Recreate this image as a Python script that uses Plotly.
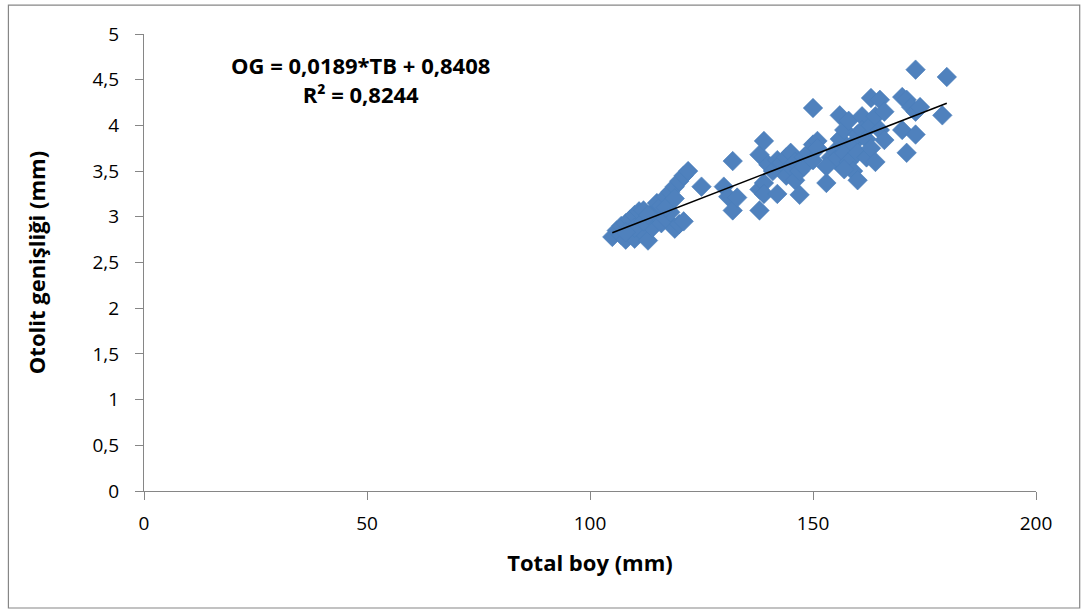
import plotly.graph_objects as go

# Total length (TB, mm) and otolith width (OG, mm) of each fish
total_boy = [
    105, 106, 107, 107, 108, 108, 109, 109, 110, 110, 111, 111, 112, 112, 113, 113,
    114, 114, 115, 115, 116, 116, 117, 117, 118, 118, 119, 119, 120, 120, 121, 121,
    122, 110, 112, 108, 113, 117, 119,
    125, 130, 131, 132, 132, 133, 138, 138, 139, 139, 138, 139, 140, 141, 142, 142,
    143, 144, 144, 145, 145, 146, 146, 147, 147, 148, 148, 149, 150,
    150, 150, 151, 153, 154, 155, 155, 156, 156, 157, 157, 158, 158, 159, 159, 160,
    160, 160, 161, 161, 162, 162, 163, 163, 163, 164, 164, 165, 165, 166, 166, 170,
    170, 171, 171, 172, 173, 173, 173, 174, 180, 179, 151, 153, 157,
]
otolit_genisligi = [
    2.78, 2.85, 2.80, 2.90, 2.75, 2.93, 2.85, 2.97, 2.76, 3.02, 2.90, 3.06, 3.07, 2.82, 2.74, 2.96,
    3.05, 2.88, 3.00, 3.15, 2.93, 3.12, 3.22, 2.98, 3.05, 3.27, 3.33, 2.87, 3.39, 2.92, 3.45, 2.95,
    3.50, 2.88, 2.95, 2.83, 3.02, 3.10, 3.20,
    3.33, 3.33, 3.22, 3.61, 3.07, 3.21, 3.07, 3.30, 3.37, 3.25, 3.68, 3.83, 3.57, 3.50, 3.62, 3.25,
    3.59, 3.65, 3.45, 3.70, 3.55, 3.40, 3.60, 3.24, 3.50, 3.65, 3.55, 3.70, 3.62,
    4.19, 3.79, 3.83, 3.37, 3.65, 3.72, 3.62, 4.11, 3.85, 3.95, 3.70, 4.05, 3.60, 3.80, 3.50, 3.40,
    3.90, 3.70, 4.10, 3.95, 3.65, 3.85, 4.30, 4.00, 3.75, 3.60, 4.10, 4.28, 3.95, 3.84, 4.15, 4.31,
    3.95, 3.70, 4.28, 4.20, 4.61, 3.90, 4.15, 4.20, 4.53, 4.11, 3.75, 3.55, 3.52,
]

# Linear fit reported on the chart
slope = 0.0189
intercept = 0.8408
r_squared = 0.8244
fit_x = [min(total_boy), max(total_boy)]
fit_y = [slope * v + intercept for v in fit_x]

x_ticks = [0, 50, 100, 150, 200]
y_ticks = [0, 0.5, 1, 1.5, 2, 2.5, 3, 3.5, 4, 4.5, 5]
y_tick_text = ["0", "0,5", "1", "1,5", "2", "2,5", "3", "3,5", "4", "4,5", "5"]

FONT = "'Open Sans', sans-serif"
AXIS_GREY = "#868686"


def tr(v):
    return str(v).replace(".", ",")


fig = go.Figure()
fig.add_trace(go.Scatter(
    x=total_boy, y=otolit_genisligi, mode="markers",
    marker=dict(symbol="diamond", size=15, color="#4F81BD",
                line=dict(width=0.6, color="#4A7EBB")),
    showlegend=False, hoverinfo="x+y",
))
fig.add_trace(go.Scatter(
    x=fit_x, y=fit_y, mode="lines",
    line=dict(color="black", width=1.6),
    showlegend=False, hoverinfo="skip",
))

fig.add_annotation(
    x=0.243, y=0.97, xref="paper", yref="paper",
    text=f"<b>OG = {tr(slope)}*TB + {tr(intercept)}</b><br><b>R² = {tr(r_squared)}</b>",
    showarrow=False, align="center", xanchor="center", yanchor="top",
    font=dict(family=FONT, size=22, color="black"),
)

# Outer chart frame
fig.add_shape(type="rect", xref="paper", yref="paper",
              x0=-0.152, x1=1.049, y0=-0.256, y1=1.063,
              line=dict(color=AXIS_GREY, width=1.2))

fig.update_layout(
    width=1083, height=611,
    margin=dict(l=144, r=47, t=34, b=120),
    plot_bgcolor="white", paper_bgcolor="white",
    font=dict(family=FONT, size=19, color="black"),
    xaxis=dict(
        range=[0, 200], tickvals=x_ticks, ticktext=[str(v) for v in x_ticks],
        showgrid=False, zeroline=False, showline=True, linecolor=AXIS_GREY, linewidth=1.2,
        ticks="outside", ticklen=8, tickcolor=AXIS_GREY, tickwidth=1.2,
        tickfont=dict(family=FONT, size=19), ticklabelstandoff=7,
        title=dict(text="<b>Total boy (mm)</b>", font=dict(family=FONT, size=22), standoff=20),
    ),
    yaxis=dict(
        range=[0, 5], tickvals=y_ticks, ticktext=y_tick_text,
        showgrid=False, zeroline=False, showline=True, linecolor=AXIS_GREY, linewidth=1.2,
        ticks="outside", ticklen=8, tickcolor=AXIS_GREY, tickwidth=1.2,
        tickfont=dict(family=FONT, size=19), ticklabelstandoff=12,
        title=dict(text="<b>Otolit genişliği (mm)</b>", font=dict(family=FONT, size=22), standoff=40),
    ),
)

fig.write_html("out.html")
